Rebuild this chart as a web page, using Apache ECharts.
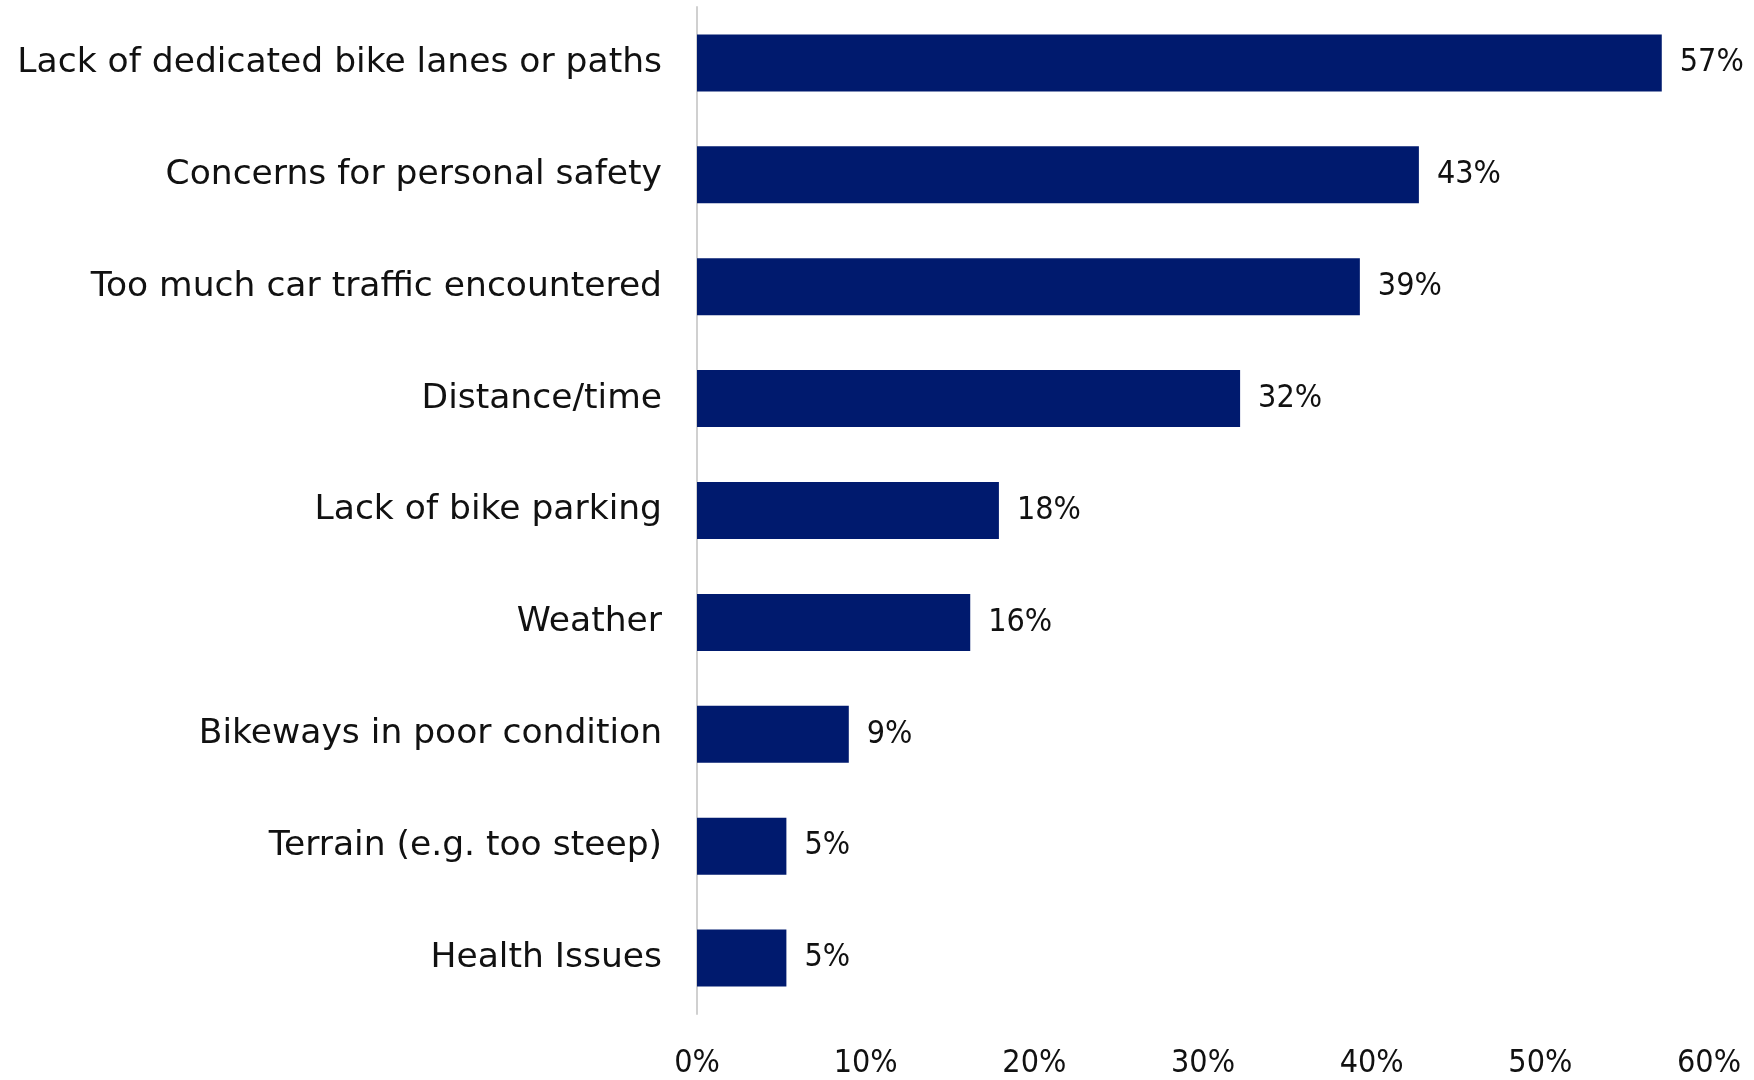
<!DOCTYPE html>
<html><head><meta charset="utf-8">
<script src="https://cdn.jsdelivr.net/npm/echarts@6/dist/echarts.min.js"></script>
<style>html,body{margin:0;padding:0;background:#fff}#c{width:1754px;height:1080px}</style>
</head><body><div id="c"></div>
<script>
const categories = ["Lack of dedicated bike lanes or paths","Concerns for personal safety","Too much car traffic encountered","Distance/time","Lack of bike parking","Weather","Bikeways in poor condition","Terrain (e.g. too steep)","Health Issues"];
const values = [57.2, 42.8, 39.3, 32.2, 17.9, 16.2, 9.0, 5.3, 5.3];
const valueLabels = ["57%","43%","39%","32%","18%","16%","9%","5%","5%"];
const tickLabels = ["0%","10%","20%","30%","40%","50%","60%"];

const chart = echarts.init(document.getElementById('c'));
chart.setOption({
  animation:false,
  grid:{left:697,right:45,top:7,bottom:63,containLabel:false},
  xAxis:{type:'value',min:0,max:60,interval:10,
    splitLine:{show:false},axisLine:{show:false},axisTick:{show:false},
    axisLabel:{margin:34,fontFamily:'DejaVu Sans Condensed',fontSize:32,color:'#111',
      formatter:(v)=>tickLabels[Math.round(v/10)]}},
  yAxis:{type:'category',inverse:true,data:categories,
    axisLine:{show:true,lineStyle:{color:'#d0d0d0',width:2}},axisTick:{show:false},
    axisLabel:{margin:35,fontFamily:'DejaVu Sans',fontSize:34.5,color:'#111'}},
  series:[{type:'bar',data:values,barWidth:57,
    itemStyle:{color:'#001A6E'},
    label:{show:true,position:'right',distance:18,fontFamily:'DejaVu Sans Condensed',fontSize:32,color:'#111',
      formatter:(p)=>valueLabels[p.dataIndex]}}]
});
</script></body></html>
